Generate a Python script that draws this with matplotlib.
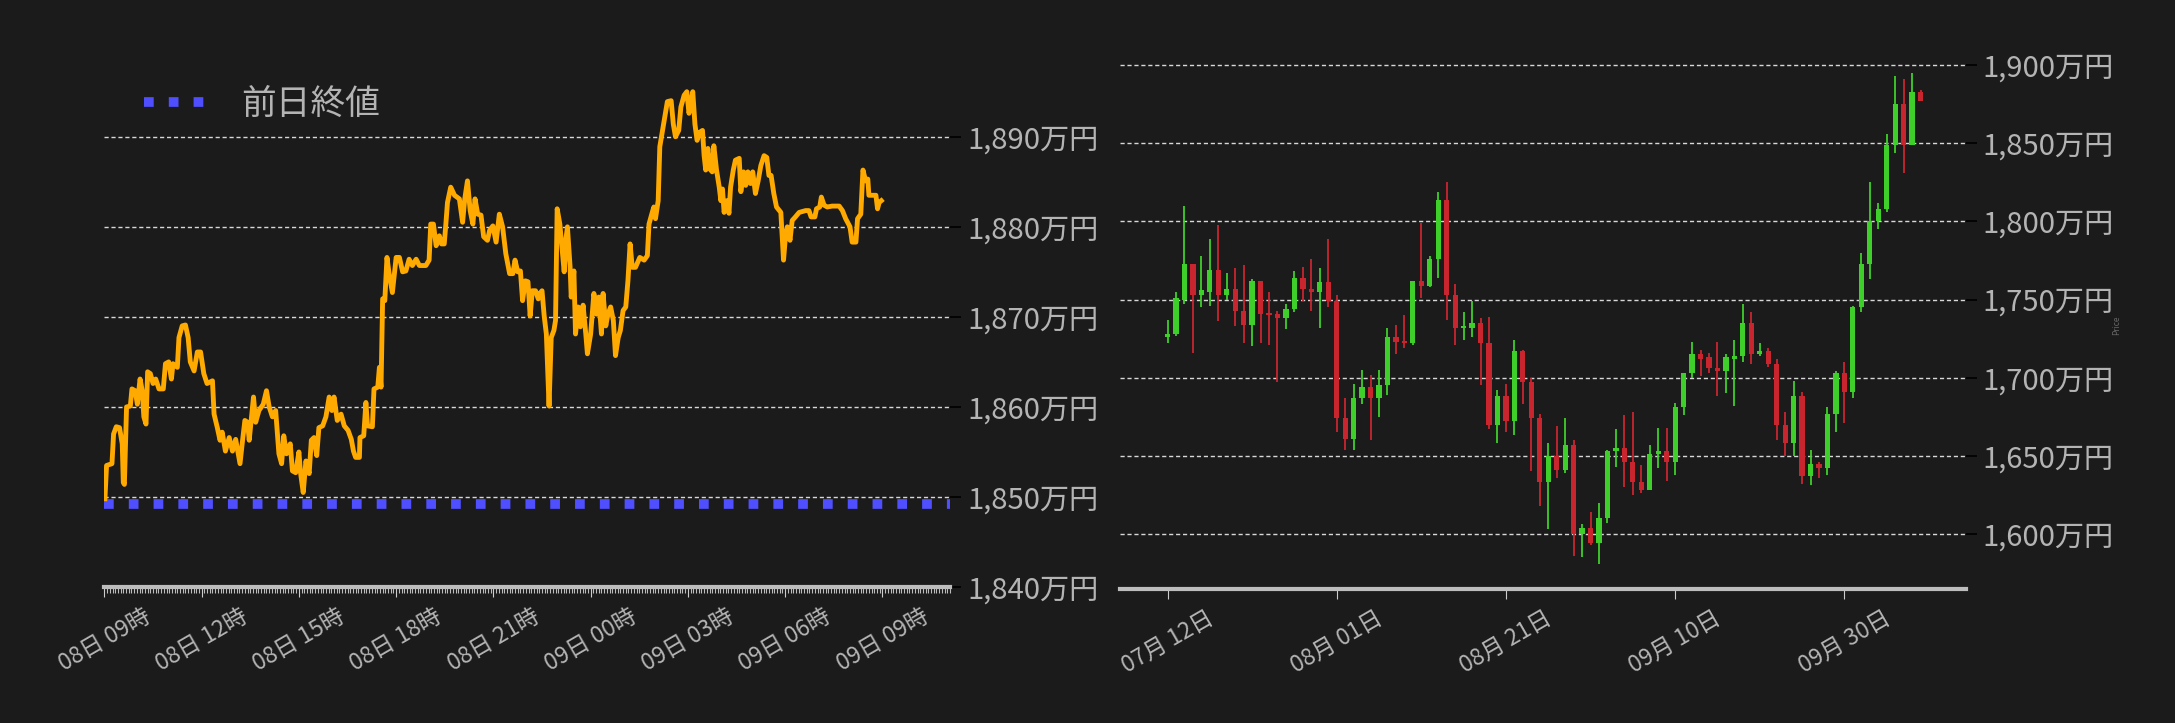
import matplotlib
matplotlib.use("Agg")
import matplotlib.pyplot as plt
from matplotlib.ticker import FixedLocator, MultipleLocator

plt.rcParams['font.family'] = ['Noto Sans CJK JP', 'DejaVu Sans']

# ---------------- intraday data (minutes from 08日 09時, 万円) ----------------
minutes = [1,4,14,17,22,28,33,35,37,41,48,51,57,61,66,70,73,77,80,85,90,95,101,109,113,119,124,127,135,138,
           144,150,155,159,166,172,178,184,190,200,203,209,214,218,224,231,237,243,251,255,260,265,268,276,280,
           286,294,300,305,311,317,323,328,332,337,344,348,354,360,363,368,373,379,383,388,393,397,404,410,416,
           421,425,431,438,444,451,457,461,465,472,473,480,484,487,496,499,506,509,512,515,519,523,527,533,540,
           546,552,558,564,570,577,583,595,601,604,609,614,620,624,629,632,635,641,648,657,663,667,672,677,682,
           686,691,697,702,709,713,719,725,731,737,743,750,756,760,765,770,774,779,784,788,792,798,803,806,810,
           814,818,823,827,832,835,838,843,848,851,854,857,862,864,869,872,877,881,886,891,894,900,906,911,915,
           920,923,928,932,937,942,946,951,955,960,965,969,973,977,983,991,999,1005,1008,1014,1017,1020,1025,
           1028,1033,1037,1042,1049,1053,1057,1063,1067,1073,1078,1082,1085,1089,1093,1097,1102,1107,1110,1113,
           1117,1121,1125,1128,1133,1138,1141,1144,1147,1152,1156,1159,1164,1168,1175,1178,1183,1187,1191,1196,
           1200,1205,1210,1215,1221,1226,1230,1234,1239,1244,1252,1257,1261,1264,1269,1273,1279,1286,1298,1304,
           1308,1315,1318,1324,1327,1332,1338,1347,1360,1366,1372,1380,1384,1391,1394,1400,1404,1409,1413,1415,
           1421,1428,1431,1434,1438]
prices = [1849.8,1853.5,1853.7,1857.0,1857.8,1857.7,1855.9,1851.6,1851.4,1860.0,1860.1,1862.0,1861.8,1860.3,1863.1,
          1861.8,1858.9,1858.1,1863.9,1863.7,1862.6,1863.1,1862.0,1862.0,1864.8,1865.0,1863.1,1864.8,1864.4,1867.7,
          1869.0,1869.1,1867.7,1865.0,1864.0,1866.1,1866.1,1863.7,1862.6,1862.9,1859.2,1857.7,1856.3,1857.2,1855.1,
          1856.6,1855.1,1856.4,1853.7,1855.9,1858.5,1858.3,1856.3,1861.1,1858.3,1859.6,1860.3,1861.8,1860.0,1858.9,
          1859.6,1854.8,1853.7,1856.8,1854.8,1855.9,1852.9,1852.7,1855.0,1852.7,1850.5,1854.0,1852.6,1856.3,1856.6,
          1854.6,1857.7,1857.9,1858.9,1861.1,1859.6,1861.1,1858.5,1859.2,1857.9,1857.4,1856.4,1855.1,1854.4,1854.4,
          1856.6,1856.8,1860.5,1857.9,1857.8,1862.0,1862.2,1864.4,1862.2,1872.0,1871.8,1876.6,1874.8,1872.7,1876.6,
          1876.6,1875.0,1875.1,1876.4,1875.7,1876.4,1875.7,1875.7,1876.3,1880.3,1880.3,1877.9,1879.0,1878.1,1878.1,
          1880.3,1882.7,1884.4,1883.5,1883.1,1880.5,1883.1,1885.1,1881.8,1880.3,1883.1,1881.4,1881.3,1878.9,1878.5,
          1879.6,1880.1,1878.3,1881.4,1880.0,1877.0,1874.8,1874.8,1876.3,1875.0,1875.1,1871.8,1874.0,1873.9,1870.1,
          1872.9,1872.9,1872.0,1872.6,1872.9,1870.1,1868.1,1860.1,1867.7,1868.5,1869.6,1882.0,1880.3,1877.0,1875.0,
          1878.5,1880.0,1875.5,1872.2,1875.1,1868.1,1871.1,1868.9,1871.3,1868.1,1865.9,1868.1,1872.6,1870.3,1872.2,
          1868.1,1872.6,1869.0,1870.3,1871.1,1869.6,1865.7,1867.7,1868.5,1870.7,1871.1,1874.0,1878.1,1875.5,1875.5,
          1876.6,1876.3,1876.8,1880.3,1881.6,1882.2,1880.9,1882.9,1888.9,1890.7,1892.2,1893.9,1894.0,1891.4,1890.0,
          1890.7,1893.3,1894.6,1895.0,1892.6,1893.5,1895.0,1891.4,1889.6,1890.5,1890.7,1887.9,1886.3,1888.7,1886.4,
          1886.1,1889.0,1886.3,1884.4,1882.9,1884.2,1881.6,1882.9,1881.5,1884.4,1886.3,1887.4,1887.6,1883.9,1886.1,
          1884.6,1886.1,1884.8,1886.1,1883.7,1885.1,1886.8,1887.9,1887.7,1885.7,1885.7,1883.7,1882.2,1881.6,1876.3,
          1879.2,1880.0,1878.5,1880.7,1881.1,1881.6,1881.8,1881.8,1881.1,1881.1,1882.0,1882.2,1883.3,1882.4,1882.2,
          1882.3,1882.3,1881.8,1880.9,1880.0,1878.3,1878.3,1880.9,1881.4,1886.3,1885.1,1885.3,1883.5,1883.5,1883.5,
          1882.0,1882.7,1882.9]
prev_close = 1849.2
left_yticks = [1840, 1850, 1860, 1870, 1880, 1890]
left_xtick_min = [0, 180, 360, 540, 720, 900, 1080, 1260, 1440]
left_xtick_labels = ['08日 09時', '08日 12時', '08日 15時', '08日 18時', '08日 21時',
                     '09日 00時', '09日 03時', '09日 06時', '09日 09時']

# ---------------- daily candles (07/12 .. 10/09, 万円) ----------------
opens = [1726,1728,1750,1773,1753,1755,1769,1753,1757,1743,1734,1762,1741,1741,1738,1744,1764,1757,1755,1761,
         1749,1674,1661,1687,1694,1687,1695,1726,1723,1722,1762,1759,1776,1814,1753,1732,1732,1735,1722,1670,
         1688,1672,1717,1697,1674,1633,1650,1641,1657,1600,1604,1594,1610,1653,1655,1646,1633,1628,1651,1653,
         1646,1681,1703,1715,1713,1706,1704,1712,1714,1735,1715,1717,1709,1670,1658,1688,1637,1645,1642,1677,
         1703,1691,1745,1773,1800,1808,1849,1875,1849,1883]
closes = [1728,1751,1773,1753,1756,1769,1753,1757,1743,1734,1762,1741,1740,1738,1744,1764,1757,1755,1761,1749,
          1674,1661,1687,1694,1687,1695,1726,1723,1722,1762,1759,1776,1814,1753,1732,1732,1735,1722,1670,1688,
          1672,1717,1697,1674,1633,1650,1641,1657,1600,1604,1594,1610,1653,1655,1646,1633,1628,1651,1653,1646,
          1681,1703,1715,1712,1706,1704,1713,1714,1735,1715,1717,1709,1670,1658,1688,1637,1645,1642,1677,1703,
          1691,1745,1773,1800,1808,1849,1875,1849,1883,1877]
highs = [1737,1755,1810,1773,1778,1789,1798,1767,1770,1772,1763,1762,1755,1743,1747,1768,1771,1776,1770,1789,
         1753,1687,1696,1705,1702,1705,1732,1734,1740,1762,1799,1778,1819,1825,1760,1742,1749,1738,1739,1692,
         1696,1724,1718,1700,1677,1658,1669,1674,1660,1606,1614,1620,1654,1667,1676,1678,1644,1657,1668,1668,
         1684,1703,1723,1718,1716,1723,1715,1724,1747,1742,1722,1719,1712,1678,1698,1691,1654,1646,1681,1704,
         1710,1746,1780,1825,1812,1856,1893,1891,1895,1884]
lows = [1722,1727,1747,1716,1745,1746,1736,1750,1733,1722,1720,1722,1721,1697,1731,1742,1749,1743,1732,1745,
        1665,1654,1654,1683,1660,1675,1689,1715,1719,1721,1751,1758,1764,1737,1721,1724,1726,1695,1667,1658,
        1665,1663,1683,1640,1618,1603,1636,1639,1586,1585,1593,1581,1607,1643,1630,1625,1626,1628,1642,1634,
        1638,1676,1700,1701,1703,1688,1690,1682,1710,1709,1714,1707,1660,1650,1650,1632,1631,1636,1638,1665,
        1671,1687,1742,1763,1795,1806,1844,1831,1849,1877]
right_yticks = [1600, 1650, 1700, 1750, 1800, 1850, 1900]
right_xtick_idx = [0, 20, 40, 60, 80]
right_xtick_labels = ['07月 12日', '08月 01日', '08月 21日', '09月 10日', '09月 30日']

BG = '#1b1b1b'
TXT = '#b4b4b4'
UP = '#3ecf2b'
DOWN = '#c8252f'

fig = plt.figure(figsize=(21.75, 7.23), dpi=100, facecolor=BG)

# ---------------- left chart ----------------
ax1 = fig.add_axes([0.048, 0.188, 0.389, 0.735], facecolor=BG)
ax1.plot(minutes, prices, color='#ffaa00', lw=3.5, solid_joinstyle='round', zorder=3)
ax1.axhline(prev_close, color='#4f4fff', lw=7, linestyle=(0, (1, 1.55)), zorder=2)
ax1.plot([], [], color='#4f4fff', lw=7, linestyle=(0, (1, 1.55)), label='前日終値')
ax1.set_xlim(0, 1566)
ax1.set_ylim(1840, 1899)
ax1.yaxis.tick_right()
ax1.yaxis.set_major_locator(FixedLocator(left_yticks))
ax1.set_yticklabels([f'{v:,}万円' for v in left_yticks], fontsize=21, color=TXT)
ax1.tick_params(axis='y', length=8, width=1.2, color='black', pad=4)
ax1.grid(axis='y', color='#d8d8d8', lw=1.0, linestyle=(0, (3, 2)))
ax1.xaxis.set_major_locator(FixedLocator(left_xtick_min))
ax1.set_xticklabels(left_xtick_labels, fontsize=16.5, color=TXT, rotation=30, ha='center')
ax1.xaxis.set_minor_locator(MultipleLocator(5))
ax1.tick_params(axis='x', which='major', length=7, color='#cccccc', pad=6)
ax1.tick_params(axis='x', which='minor', length=4, color='#bbbbbb', width=0.8)
for s in ['top', 'right', 'left']:
    ax1.spines[s].set_visible(False)
ax1.spines['bottom'].set_color('#bdbdbd')
ax1.spines['bottom'].set_linewidth(3)
leg = ax1.legend(loc='upper left', bbox_to_anchor=(0.01, 1.0), frameon=False,
                 fontsize=25, handlelength=1.8, handletextpad=1.0)
for t in leg.get_texts():
    t.set_color(TXT)

# ---------------- right chart ----------------
ax2 = fig.add_axes([0.515, 0.186, 0.389, 0.755], facecolor=BG)
idx = list(range(len(opens)))
for i in idx:
    o, c, h, l = opens[i], closes[i], highs[i], lows[i]
    col = UP if c >= o else DOWN
    ax2.vlines(i, l, h, color=col, lw=1.3, zorder=3)
    ax2.bar(i, max(abs(c - o), 1.2), bottom=min(o, c), width=0.62, color=col, zorder=4)
ax2.set_xlim(-5.6, 94.4)
ax2.set_ylim(1565, 1914.5)
ax2.yaxis.tick_right()
ax2.yaxis.set_major_locator(FixedLocator(right_yticks))
ax2.set_yticklabels([f'{v:,}万円' for v in right_yticks], fontsize=21, color=TXT)
ax2.tick_params(axis='y', length=8, width=1.2, color='black', pad=4)
ax2.grid(axis='y', color='#d8d8d8', lw=1.0, linestyle=(0, (3, 2)))
ax2.xaxis.set_major_locator(FixedLocator(right_xtick_idx))
ax2.set_xticklabels(right_xtick_labels, fontsize=16.5, color=TXT, rotation=30, ha='center')
ax2.tick_params(axis='x', length=7, color='#cccccc', pad=6)
for s in ['top', 'right', 'left']:
    ax2.spines[s].set_visible(False)
ax2.spines['bottom'].set_color('#bdbdbd')
ax2.spines['bottom'].set_linewidth(3)
fig.text(0.973, 0.55, 'Price', rotation=90, fontsize=6, color='#666666', ha='center', va='center')

fig.savefig('out.png', dpi=100, facecolor=BG)
